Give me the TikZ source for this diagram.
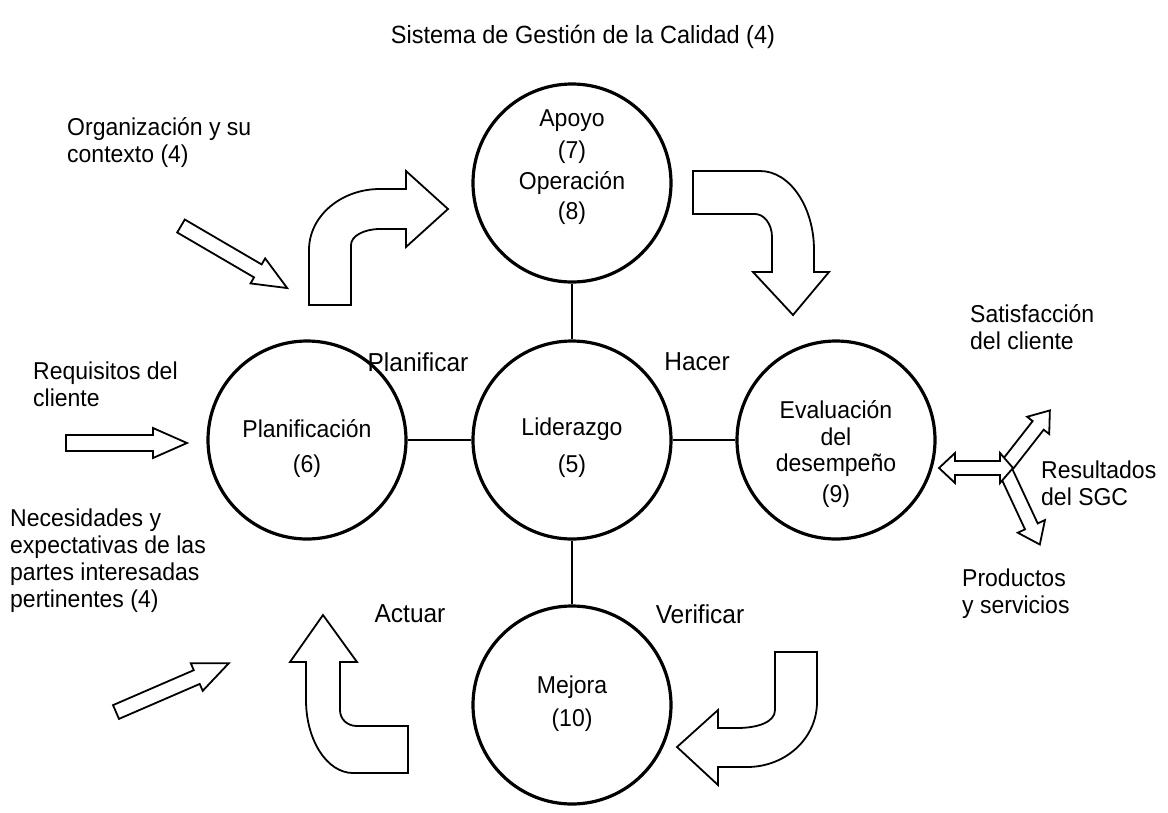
\documentclass[tikz,border=0pt]{standalone}
\usepackage{fontspec}
\setmainfont{Liberation Sans}
\newcommand\blockarrow[7]{% x y angle length shaftwidth headwidth headlength
  \begin{scope}[shift={(#1,#2)},rotate=#3]
    \draw[blk] (0,{-#5/2}) -- ({#4-#7},{-#5/2}) -- ({#4-#7},{-#6/2}) -- (#4,0)
      -- ({#4-#7},{#6/2}) -- ({#4-#7},{#5/2}) -- (0,{#5/2}) -- cycle;
  \end{scope}}
\begin{document}
\begin{tikzpicture}[x=1pt,y=-1pt,
  circ/.style={circle, draw, line width=3.2pt, minimum size=198pt, inner sep=0pt},
  conn/.style={line width=2pt},
  blk/.style={draw, fill=white, line width=1.8pt, line join=miter},
  tall/.style={yscale=1.06},
  side/.style={tall, font=\fontsize{23}{25.5}\selectfont, align=left, inner sep=0pt, anchor=west},
  lbl/.style={tall, font=\fontsize{24.5}{27}\selectfont, inner sep=0pt},
  ttl/.style={tall, font=\fontsize{23.5}{27}\selectfont, inner sep=0pt},
  ctext/.style={tall, font=\fontsize{23}{26}\selectfont, inner sep=0pt}]
\useasboundingbox (0,0) rectangle (1168,812);
\fill[white] (0,0) rectangle (1168,812);

% title
\node[ttl] (title) at (583,37) {Sistema de Gestión de la Calidad (4)};

% circles
\node[circ] (apoyo) at (572,183) {};
\node[circ] (lider) at (572,440) {};
\node[circ] (plan) at (307,440) {};
\node[circ] (eval) at (836,440) {};
\node[circ] (mejora) at (572,705) {};

\draw[conn] (apoyo) -- (lider);
\draw[conn] (plan) -- (lider);
\draw[conn] (lider) -- (eval);
\draw[conn] (lider) -- (mejora);

% circle texts
\node[ctext] (t7a) at (572,121) {Apoyo};
\node[ctext] (t7b) at (572,152) {(7)};
\node[ctext] (t8a) at (572,183) {Operación};
\node[ctext] (t8b) at (572,213) {(8)};
\node[ctext] (t6a) at (307,429) {Planificación};
\node[ctext] (t6b) at (307,466) {(6)};
\node[ctext] (t5a) at (572,429) {Liderazgo};
\node[ctext] (t5b) at (572,466) {(5)};
\node[ctext] (t9a) at (836,410) {Evaluación};
\node[ctext] (t9b) at (836,437) {del};
\node[ctext] (t9c) at (836,465) {desempeño};
\node[ctext] (t9d) at (836,496) {(9)};
\node[ctext] (t10a) at (572,687) {Mejora};
\node[ctext] (t10b) at (572,720) {(10)};

% PDCA labels
\node[lbl] (pl) at (418,362) {Planificar};
\node[lbl] (ha) at (697,362) {Hacer};
\node[lbl] (ac) at (410,614) {Actuar};
\node[lbl] (ve) at (700,614) {Verificar};

% side texts
\node[side] (org) at (67,142.5) {Organización y su\\contexto (4)};
\node[side] (req) at (33,384.5) {Requisitos del\\cliente};
\node[side] (nec) at (10,560.5) {Necesidades y\\expectativas de las\\partes interesadas\\pertinentes (4)};
\node[side] (sat) at (970,327.5) {Satisfacción\\del cliente};
\node[side] (res) at (1041,483.5) {Resultados\\del SGC};
\node[side] (prod) at (962,593.5) {Productos\\y servicios};

% straight block arrows
\blockarrow{181}{226}{-30.3}{123}{15}{29}{34}
\blockarrow{66}{443}{0}{121}{16}{30}{34}
\blockarrow{116}{712}{23.4}{123}{15}{30}{35}

% three-way arrow
\blockarrow{1008}{464}{52}{68}{14}{28}{19}
\blockarrow{1006}{472}{-65}{80}{14}{30}{20}
\draw[blk] (939,468) -- (955,453) -- (955,461) -- (1000,461) -- (1000,453) -- (1013,468)
  -- (1000,483) -- (1000,475) -- (955,475) -- (955,483) -- cycle;

% curved arrows
% Planificar (top-left)
\draw[blk] (309,305) -- (309,250) .. controls (309,216) and (341,189) .. (380,189)
  -- (406,189) -- (406,171) -- (448,209) -- (406,247) -- (406,229) -- (380,229)
  .. controls (364,229) and (351,236) .. (351,245) -- (351,305) -- cycle;
% Hacer (top-right)
\draw[blk] (693,171) -- (760,171) .. controls (790,171) and (814,207) .. (814,250)
  -- (814,272) -- (829,272) -- (793,315) -- (753,272) -- (772,272) -- (772,237)
  .. controls (772,224) and (764,214) .. (755,214) -- (693,214) -- cycle;
% Verificar (bottom-right)
\draw[blk] (775,652) -- (817,652) -- (817,702) .. controls (817,738) and (786,767) .. (747,767)
  -- (718,767) -- (718,785) -- (677,747) -- (718,710) -- (718,728) -- (737,728)
  .. controls (758,728) and (775,722) .. (775,710) -- cycle;
% Actuar (bottom-left)
\draw[blk] (323,615) -- (357,662) -- (340,662) -- (340,710) .. controls (340,719) and (347,726) .. (357,726)
  -- (408,726) -- (408,773) -- (353,773) .. controls (327,773) and (306,740) .. (306,700)
  -- (306,662) -- (290,662) -- cycle;
\end{tikzpicture}
\end{document}
